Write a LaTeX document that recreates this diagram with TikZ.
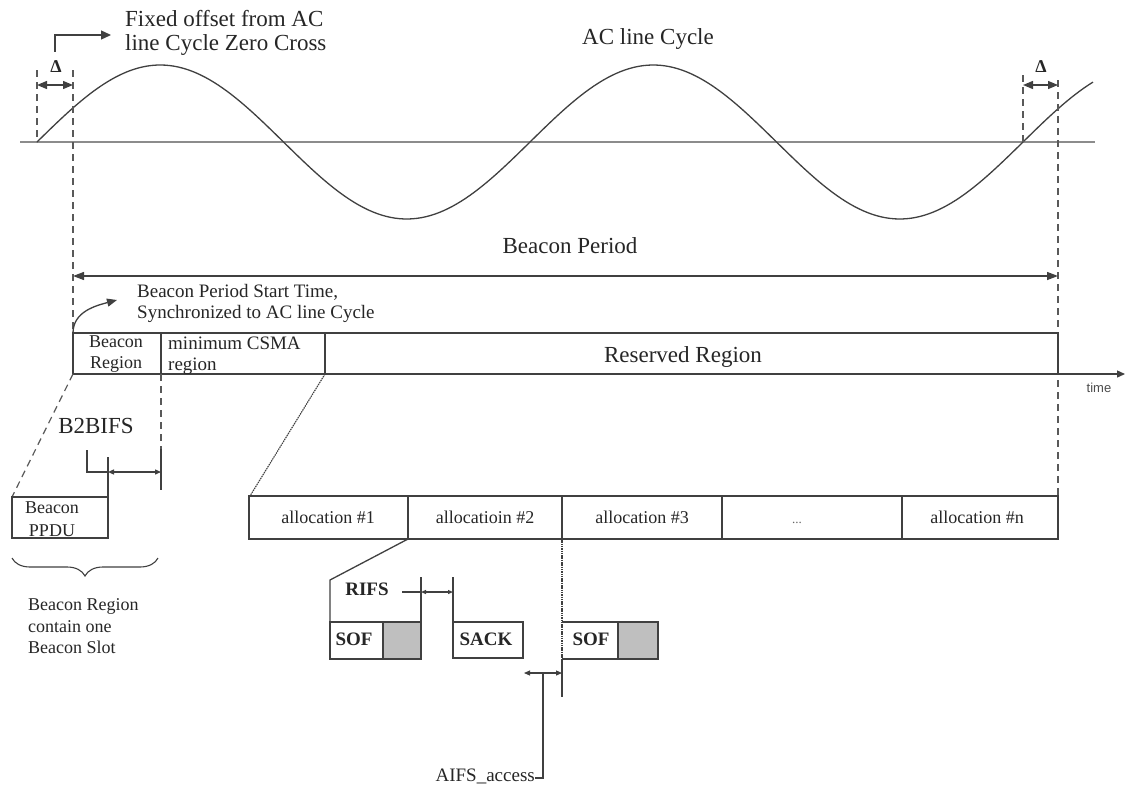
\documentclass[tikz,border=0pt]{standalone}
\usepackage{fontspec}
\setmainfont{Liberation Serif}
\newfontfamily\sansf{Liberation Sans}
\usetikzlibrary{arrows.meta,decorations.pathreplacing,calc}
\begin{document}
\begin{tikzpicture}[x=1pt,y=-1pt,
  ln/.style={line width=1.3pt,draw=black!75},
  thinln/.style={line width=1.1pt,draw=black!75},
  axisln/.style={line width=2pt,draw=black!45},
  dsh/.style={line width=1.2pt,draw=black!65,dash pattern=on 7pt off 5pt},
  dotln/.style={line width=1.1pt,draw=black!75,dash pattern=on 1.5pt off 0.8pt},
  big/.style={font=\fontsize{23}{26}\selectfont},
  mid/.style={font=\fontsize{19}{22}\selectfont},
  sml/.style={font=\fontsize{18}{20}\selectfont},
  txt/.style={inner sep=0pt,text=black!85},
  deltadim/.style={{Triangle[length=10pt,width=8pt]}-{Triangle[length=10pt,width=8pt]}},
  smalldim/.style={{Triangle[length=6pt,width=5pt]}-{Triangle[length=6pt,width=5pt]}},
  tinydim/.style={{Triangle[length=5pt,width=4pt]}-{Triangle[length=5pt,width=4pt]}},
  graybox/.style={fill=black!25}
]
\useasboundingbox (0,0) rectangle (1126,784);
\fill[white] (0,0) rectangle (1126,784);

% ---------- AC line cycle ----------
\draw[axisln] (20,142) -- (1095,142);
\draw[ln] plot[domain=37:1093,samples=240] (\x,{142-77*sin((\x-37)/493*360)});

\coordinate (zc0) at (37,142);
\coordinate (zc1) at (1023,142);
\coordinate (bps) at (73,333);
\coordinate (bpe) at (1058,333);

\draw[dsh] (37,70) -- (zc0);
\draw[dsh] (73,70) -- (bps);
\draw[dsh] (1023,75) -- (zc1);
\draw[dsh] (1058,80) -- (1058,496);

\node[txt,font=\bfseries\fontsize{18}{20}\selectfont,anchor=base] (d1) at (56,73) {Δ};
\node[txt,font=\bfseries\fontsize{18}{20}\selectfont,anchor=base] (d2) at (1041,72) {Δ};
\draw[ln,deltadim] (37,85) -- (73,85);
\draw[ln,deltadim] (1023,85) -- (1058,85);

\node[txt,big,anchor=base west] (fo1) at (125,27) {Fixed offset from AC};
\node[txt,big,anchor=base west] (fo2) at (125,51) {line Cycle Zero Cross};
\draw[ln,-{Triangle[length=10pt,width=9pt]}] (55,52) -- (55,35) -- (111,35);

\node[txt,big,anchor=base] (acl) at (648,45) {AC line Cycle};

% ---------- Beacon period ----------
\node[txt,big,anchor=base] (bpt) at (570,253) {Beacon Period};
\draw[ln,{Triangle[length=11pt,width=8pt]}-{Triangle[length=11pt,width=8pt]}] (73,276) -- (1058,276);

\node[txt,mid,anchor=base west] (st1) at (137,297) {Beacon Period Start Time,};
\node[txt,mid,anchor=base west] (st2) at (137,318) {Synchronized to AC line Cycle};
\draw[ln,-{Triangle[length=10pt,width=8pt]}] (bps) to[out=90,in=195] (117,300);

% region row
\draw[ln] (73,333) rectangle (1058,374);
\draw[ln] (161,333) -- (161,374);
\draw[ln] (325,333) -- (325,374);
\node[txt,sml,anchor=base] (br1) at (116,347) {Beacon};
\node[txt,sml,anchor=base] (br2) at (116,368) {Region};
\node[txt,font=\fontsize{19}{19}\selectfont,anchor=base west] (cs1) at (168,349) {minimum CSMA};
\node[txt,font=\fontsize{19}{19}\selectfont,anchor=base west] (cs2) at (168,370.3) {region};
\node[txt,big,anchor=base] (rr) at (683,362) {Reserved Region};

% time axis
\draw[ln,-{Triangle[length=8pt,width=7pt]}] (1058,374) -- (1125,374);
\node[txt,font=\sansf\fontsize{13}{15}\selectfont,text=black!70,anchor=base] (tm) at (1099,392) {time};

% ---------- Beacon region detail ----------
\draw[dsh] (73,374) -- (12,497);
\draw[dsh] (161,374) -- (161,449);
\draw[ln] (161,449) -- (161,490);
\node[txt,big,anchor=base] (b2b) at (96,433) {B2BIFS};
\draw[ln] (87,450) -- (87,472) -- (108,472);
\draw[ln,smalldim] (108,472) -- (161,472);
\draw[ln] (108,457) -- (108,497);

\draw[ln] (12,497) rectangle (108,538);
\node[txt,sml,anchor=base] (bp1) at (52,513) {Beacon};
\node[txt,sml,anchor=base] (bp2) at (52,536) {PPDU};

\draw[thinln,decorate,decoration={brace,amplitude=18pt,mirror}] (12,558) -- (158,558);
\node[txt,sml,anchor=base west] (bs1) at (28,610) {Beacon Region};
\node[txt,sml,anchor=base west] (bs2) at (28,632) {contain one};
\node[txt,sml,anchor=base west] (bs3) at (28,653) {Beacon Slot};

% ---------- Allocations ----------
\draw[dotln] (325,374) -- (250,496);
\draw[ln] (249,496) rectangle (1058,539);
\foreach \xx in {408,562,722,902} \draw[ln] (\xx,496) -- (\xx,539);
\node[txt,sml,anchor=base] (a1) at (328,523) {allocation \#1};
\node[txt,sml,anchor=base] (a2) at (485,523) {allocatioin \#2};
\node[txt,sml,anchor=base] (a3) at (642,523) {allocation \#3};
\node[txt,font=\fontsize{13}{15}\selectfont,text=black!60,anchor=base] (a4) at (797,523) {...};
\node[txt,sml,anchor=base] (an) at (977,523) {allocation \#n};

% ---------- Frame detail ----------
\draw[ln] (408,539) -- (330,580) -- (330,622);
\draw[ln] (330,622) rectangle (383,659);
\draw[ln,graybox] (383,622) rectangle (421,659);
\node[txt,font=\bfseries\fontsize{19}{21}\selectfont,anchor=base] (sof1) at (354,645) {SOF};

\draw[ln] (421,577) -- (421,622);
\draw[ln] (453,577) -- (453,622);
\node[txt,font=\bfseries\fontsize{19}{21}\selectfont,anchor=base] (rifs) at (367,595) {RIFS};
\draw[thinln] (402,592) -- (421,592);
\draw[thinln,tinydim] (421,592) -- (453,592);

\draw[ln] (453,622) rectangle (523,658);
\node[txt,font=\bfseries\fontsize{19}{21}\selectfont,anchor=base] (sack) at (486,645) {SACK};

\draw[dotln] (562,539) -- (562,659);
\draw[ln] (562,622) -- (618,622) (562,659) -- (618,659);
\draw[ln,graybox] (618,622) rectangle (658,659);
\node[txt,font=\bfseries\fontsize{19}{21}\selectfont,anchor=base] (sof2) at (591,645) {SOF};
\draw[ln] (562,659) -- (562,697);

\draw[thinln,smalldim] (524,673) -- (562,673);
\node[txt,font=\fontsize{19}{21}\selectfont,anchor=base east] (aifs) at (535,781) {AIFS\_access};
\draw[ln] (543,673) -- (543,778) -- (535,778);
\end{tikzpicture}
\end{document}
